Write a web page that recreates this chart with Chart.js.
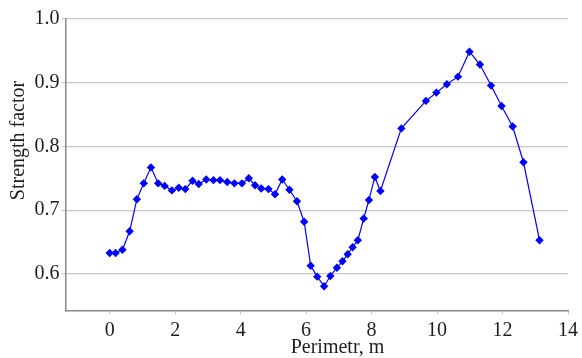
<!DOCTYPE html>
<html>
<head>
<meta charset="utf-8">
<script src="https://cdn.jsdelivr.net/npm/chart.js@4"></script>
<style>
  html, body { margin: 0; padding: 0; background: #ffffff; }
  #c { display: block; }
</style>
</head>
<body>
<canvas id="c" width="582" height="358"></canvas>
<script>
// Measured strength factor along the perimeter
const perimeter = [
  0.00, 0.18, 0.39, 0.61, 0.83, 1.04, 1.26, 1.48, 1.68, 1.90,
  2.11, 2.31, 2.53, 2.72, 2.95, 3.17, 3.37, 3.59, 3.81, 4.04,
  4.25, 4.44, 4.63, 4.85, 5.05, 5.27, 5.49, 5.72, 5.94, 6.14,
  6.34, 6.55, 6.74, 6.94, 7.11, 7.27, 7.42, 7.58, 7.76, 7.92,
  8.10, 8.27, 8.91, 9.66, 9.98, 10.30, 10.64, 10.99, 11.31, 11.65,
  11.97, 12.31, 12.64, 13.13
];
const strength = [
  0.633, 0.633, 0.638, 0.667, 0.717, 0.742, 0.767, 0.742, 0.738, 0.731,
  0.735, 0.733, 0.746, 0.741, 0.748, 0.747, 0.747, 0.744, 0.742, 0.742,
  0.750, 0.739, 0.734, 0.733, 0.725, 0.748, 0.732, 0.714, 0.682, 0.613,
  0.596, 0.581, 0.597, 0.610, 0.620, 0.631, 0.642, 0.653, 0.687, 0.716,
  0.752, 0.730, 0.828, 0.871, 0.884, 0.897, 0.909, 0.948, 0.928, 0.895,
  0.863, 0.831, 0.775, 0.653
];
const xTicks = [0, 2, 4, 6, 8, 10, 12, 14];
const yTicks = [0.6, 0.7, 0.8, 0.9, 1.0];
const xTitle = 'Perimetr, m';
const yTitle = 'Strength factor';

const points = perimeter.map((x, i) => ({ x: x, y: strength[i] }));

const FONT = '"Liberation Serif", "Times New Roman", serif';
const TEXT = '#1e1e1e';
const GRID = '#c8c8c8';
const AXIS = '#8a8a8a';

// Axis titles placed relative to the plot area
const axisTitles = {
  id: 'axisTitles',
  afterDraw(chart) {
    const { ctx, chartArea } = chart;
    ctx.save();
    ctx.fillStyle = TEXT;
    ctx.font = '20px ' + FONT;
    ctx.textAlign = 'center';
    ctx.textBaseline = 'alphabetic';
    ctx.fillText(xTitle, chartArea.left + 272, chartArea.bottom + 42);
    ctx.translate(chartArea.left - 46.5, chartArea.top + 122);
    ctx.rotate(-Math.PI / 2);
    ctx.textBaseline = 'middle';
    ctx.fillText(yTitle, 0, 0);
    ctx.restore();
  }
};

new Chart(document.getElementById('c'), {
  type: 'scatter',
  data: {
    datasets: [{
      data: points,
      showLine: true,
      borderColor: '#0000ff',
      borderWidth: 1.2,
      backgroundColor: '#0000ff',
      pointStyle: 'rectRot',
      pointRadius: 4.2,
      pointBorderWidth: 0,
      tension: 0
    }]
  },
  options: {
    responsive: false,
    animation: false,
    layout: { padding: { left: 0, right: 11, top: 18.5, bottom: 0 } },
    plugins: { legend: { display: false }, tooltip: { enabled: false } },
    scales: {
      x: {
        type: 'linear',
        min: -1.35,
        max: 14,
        afterBuildTicks(scale) { scale.ticks = xTicks.map(v => ({ value: v })); },
        afterFit(scale) { scale.height = 47.5; },
        grid: {
          display: true,
          drawOnChartArea: false,
          drawTicks: true,
          tickLength: 4,
          color: GRID
        },
        border: { display: true, color: AXIS, width: 1.5 },
        ticks: {
          color: TEXT,
          font: { family: FONT, size: 20 },
          padding: 4,
          maxRotation: 0,
          callback: v => String(v)
        }
      },
      y: {
        type: 'linear',
        min: 0.543,
        max: 1.0,
        afterBuildTicks(scale) { scale.ticks = yTicks.map(v => ({ value: v })); },
        afterFit(scale) { scale.width = 65.5; },
        grid: {
          color: GRID,
          lineWidth: 1.2,
          drawTicks: true,
          tickLength: 4
        },
        border: { display: true, color: AXIS, width: 1.5 },
        ticks: {
          color: TEXT,
          font: { family: FONT, size: 20 },
          padding: 2,
          callback: v => v.toFixed(1)
        }
      }
    }
  },
  plugins: [axisTitles]
});
</script>
</body>
</html>
